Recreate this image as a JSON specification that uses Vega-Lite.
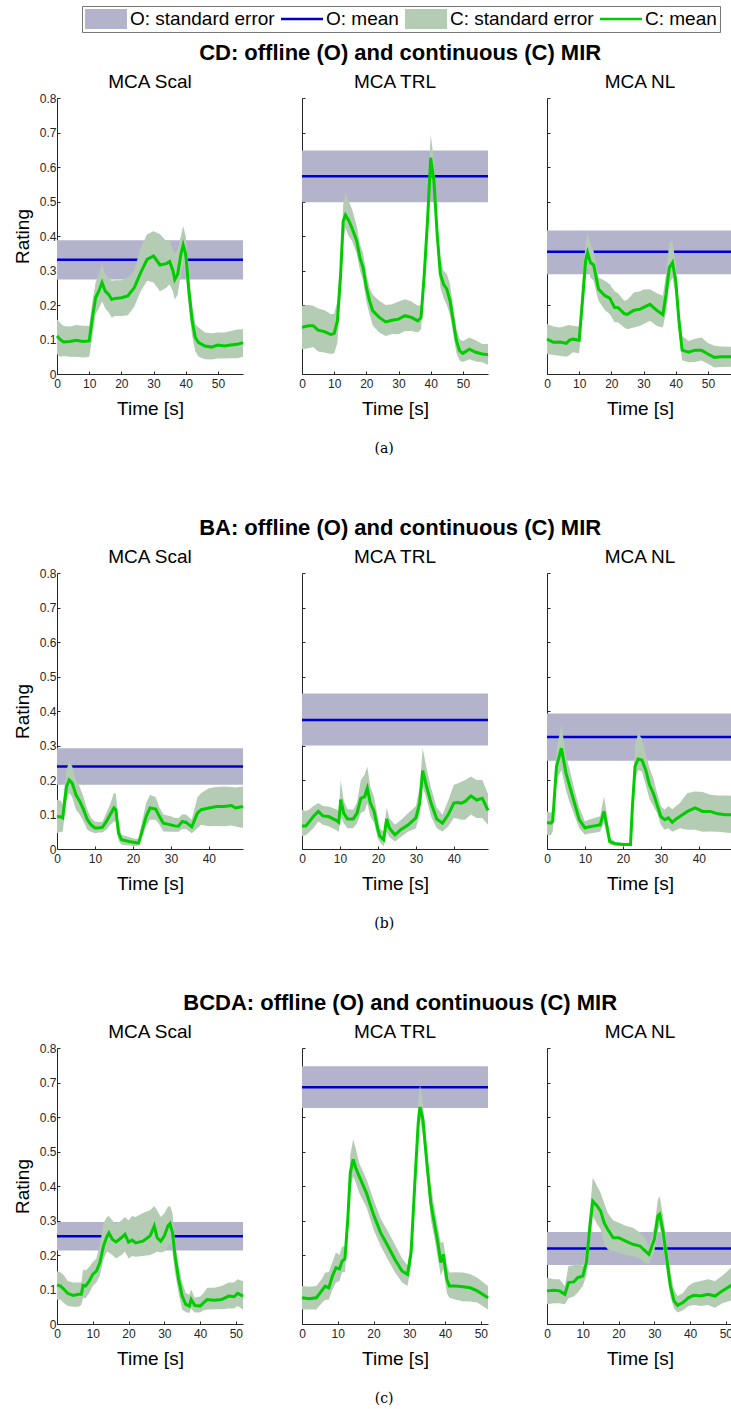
{
"$schema": "https://vega.github.io/schema/vega-lite/v6.json",
"autosize": {"type": "pad"},
"padding": {"left": 13, "top": 5, "right": 0, "bottom": 0},
"background": "white",
"config": {
  "view": {"stroke": null},
  "font": "Liberation Sans",
  "title": {"font": "Liberation Sans", "fontSize": 19, "fontWeight": "normal", "color": "#000"},
  "axis": {"grid": false, "labelFont": "Liberation Sans", "labelFontSize": 12, "labelColor": "#262626", "labelOverlap": false, "labelFlush": false, "domainColor": "#262626", "tickColor": "#262626", "tickSize": -3, "titleFont": "Liberation Sans", "titleFontSize": 19, "titleFontWeight": "normal", "titleColor": "#000"},
  "axisX": {"labelPadding": 7, "titlePadding": 10},
  "axisY": {"labelPadding": 4, "titlePadding": 7},
  "area": {"opacity": 1}
},
"datasets": {
"o": [
{"k":"a1","t":0,"m":0.331,"lo":0.274,"hi":0.388},{"k":"a1","t":57.8,"m":0.331,"lo":0.274,"hi":0.388},
{"k":"a2","t":0,"m":0.573,"lo":0.498,"hi":0.648},{"k":"a2","t":57.8,"m":0.573,"lo":0.498,"hi":0.648},
{"k":"a3","t":0,"m":0.354,"lo":0.289,"hi":0.416},{"k":"a3","t":57.8,"m":0.354,"lo":0.289,"hi":0.416},
{"k":"b1","t":0,"m":0.239,"lo":0.186,"hi":0.292},{"k":"b1","t":49,"m":0.239,"lo":0.186,"hi":0.292},
{"k":"b2","t":0,"m":0.374,"lo":0.3,"hi":0.451},{"k":"b2","t":49,"m":0.374,"lo":0.3,"hi":0.451},
{"k":"b3","t":0,"m":0.325,"lo":0.256,"hi":0.393},{"k":"b3","t":49,"m":0.325,"lo":0.256,"hi":0.393},
{"k":"c1","t":0,"m":0.254,"lo":0.213,"hi":0.296},{"k":"c1","t":52,"m":0.254,"lo":0.213,"hi":0.296},
{"k":"c2","t":0,"m":0.686,"lo":0.626,"hi":0.747},{"k":"c2","t":52,"m":0.686,"lo":0.626,"hi":0.747},
{"k":"c3","t":0,"m":0.219,"lo":0.171,"hi":0.267},{"k":"c3","t":52,"m":0.219,"lo":0.171,"hi":0.267}
],
"c": [
{"k":"a1","t":0,"m":0.11,"lo":0.057,"hi":0.158},
{"k":"a1","t":1,"m":0.1,"lo":0.05,"hi":0.148},
{"k":"a1","t":2,"m":0.093,"lo":0.052,"hi":0.139},
{"k":"a1","t":4,"m":0.094,"lo":0.05,"hi":0.138},
{"k":"a1","t":6,"m":0.098,"lo":0.05,"hi":0.142},
{"k":"a1","t":8,"m":0.094,"lo":0.048,"hi":0.14},
{"k":"a1","t":10,"m":0.096,"lo":0.049,"hi":0.139},
{"k":"a1","t":11,"m":0.163,"lo":0.11,"hi":0.21},
{"k":"a1","t":12,"m":0.221,"lo":0.173,"hi":0.265},
{"k":"a1","t":13,"m":0.24,"lo":0.19,"hi":0.29},
{"k":"a1","t":14,"m":0.265,"lo":0.21,"hi":0.32},
{"k":"a1","t":15,"m":0.24,"lo":0.19,"hi":0.29},
{"k":"a1","t":16,"m":0.231,"lo":0.18,"hi":0.28},
{"k":"a1","t":17,"m":0.216,"lo":0.163,"hi":0.27},
{"k":"a1","t":18,"m":0.219,"lo":0.168,"hi":0.272},
{"k":"a1","t":20,"m":0.221,"lo":0.168,"hi":0.272},
{"k":"a1","t":22,"m":0.226,"lo":0.17,"hi":0.28},
{"k":"a1","t":24,"m":0.25,"lo":0.195,"hi":0.3},
{"k":"a1","t":26,"m":0.294,"lo":0.24,"hi":0.366},
{"k":"a1","t":28,"m":0.332,"lo":0.27,"hi":0.405},
{"k":"a1","t":30,"m":0.342,"lo":0.265,"hi":0.414},
{"k":"a1","t":32,"m":0.316,"lo":0.24,"hi":0.405},
{"k":"a1","t":34,"m":0.32,"lo":0.25,"hi":0.385},
{"k":"a1","t":35,"m":0.326,"lo":0.26,"hi":0.39},
{"k":"a1","t":36,"m":0.3,"lo":0.24,"hi":0.36},
{"k":"a1","t":36.6,"m":0.274,"lo":0.216,"hi":0.35},
{"k":"a1","t":37.5,"m":0.289,"lo":0.23,"hi":0.36},
{"k":"a1","t":38.5,"m":0.347,"lo":0.29,"hi":0.4},
{"k":"a1","t":39.2,"m":0.374,"lo":0.318,"hi":0.429},
{"k":"a1","t":40,"m":0.347,"lo":0.29,"hi":0.4},
{"k":"a1","t":41,"m":0.24,"lo":0.19,"hi":0.28},
{"k":"a1","t":42,"m":0.154,"lo":0.11,"hi":0.2},
{"k":"a1","t":43,"m":0.105,"lo":0.065,"hi":0.145},
{"k":"a1","t":44,"m":0.091,"lo":0.05,"hi":0.135},
{"k":"a1","t":46,"m":0.081,"lo":0.043,"hi":0.12},
{"k":"a1","t":48,"m":0.078,"lo":0.042,"hi":0.118},
{"k":"a1","t":50,"m":0.084,"lo":0.045,"hi":0.12},
{"k":"a1","t":52,"m":0.081,"lo":0.045,"hi":0.12},
{"k":"a1","t":54,"m":0.084,"lo":0.046,"hi":0.125},
{"k":"a1","t":56,"m":0.086,"lo":0.046,"hi":0.129},
{"k":"a1","t":57.8,"m":0.091,"lo":0.05,"hi":0.13},
{"k":"a2","t":0,"m":0.135,"lo":0.072,"hi":0.198},
{"k":"a2","t":2,"m":0.14,"lo":0.075,"hi":0.2},
{"k":"a2","t":3.5,"m":0.14,"lo":0.078,"hi":0.198},
{"k":"a2","t":5,"m":0.127,"lo":0.065,"hi":0.19},
{"k":"a2","t":7,"m":0.123,"lo":0.062,"hi":0.185},
{"k":"a2","t":9,"m":0.114,"lo":0.058,"hi":0.173},
{"k":"a2","t":10,"m":0.118,"lo":0.06,"hi":0.175},
{"k":"a2","t":11,"m":0.154,"lo":0.09,"hi":0.21},
{"k":"a2","t":12,"m":0.289,"lo":0.23,"hi":0.33},
{"k":"a2","t":12.8,"m":0.443,"lo":0.38,"hi":0.49},
{"k":"a2","t":13.5,"m":0.461,"lo":0.424,"hi":0.525},
{"k":"a2","t":14.5,"m":0.445,"lo":0.4,"hi":0.5},
{"k":"a2","t":15.5,"m":0.424,"lo":0.386,"hi":0.48},
{"k":"a2","t":17,"m":0.386,"lo":0.35,"hi":0.43},
{"k":"a2","t":18,"m":0.337,"lo":0.3,"hi":0.376},
{"k":"a2","t":19,"m":0.308,"lo":0.27,"hi":0.35},
{"k":"a2","t":20,"m":0.251,"lo":0.21,"hi":0.29},
{"k":"a2","t":21,"m":0.212,"lo":0.173,"hi":0.251},
{"k":"a2","t":22,"m":0.183,"lo":0.14,"hi":0.23},
{"k":"a2","t":24,"m":0.164,"lo":0.12,"hi":0.212},
{"k":"a2","t":26,"m":0.151,"lo":0.11,"hi":0.2},
{"k":"a2","t":28,"m":0.156,"lo":0.116,"hi":0.202},
{"k":"a2","t":30,"m":0.159,"lo":0.115,"hi":0.21},
{"k":"a2","t":32,"m":0.169,"lo":0.125,"hi":0.217},
{"k":"a2","t":34,"m":0.164,"lo":0.125,"hi":0.21},
{"k":"a2","t":36,"m":0.154,"lo":0.12,"hi":0.198},
{"k":"a2","t":37,"m":0.164,"lo":0.13,"hi":0.2},
{"k":"a2","t":38,"m":0.289,"lo":0.25,"hi":0.33},
{"k":"a2","t":39,"m":0.443,"lo":0.4,"hi":0.49},
{"k":"a2","t":40,"m":0.627,"lo":0.588,"hi":0.694},
{"k":"a2","t":41,"m":0.559,"lo":0.52,"hi":0.62},
{"k":"a2","t":42,"m":0.405,"lo":0.37,"hi":0.444},
{"k":"a2","t":43,"m":0.289,"lo":0.25,"hi":0.33},
{"k":"a2","t":44,"m":0.26,"lo":0.22,"hi":0.299},
{"k":"a2","t":45,"m":0.246,"lo":0.2,"hi":0.29},
{"k":"a2","t":46,"m":0.212,"lo":0.17,"hi":0.26},
{"k":"a2","t":47,"m":0.154,"lo":0.116,"hi":0.193},
{"k":"a2","t":48,"m":0.096,"lo":0.06,"hi":0.13},
{"k":"a2","t":49,"m":0.067,"lo":0.039,"hi":0.101},
{"k":"a2","t":50,"m":0.06,"lo":0.035,"hi":0.095},
{"k":"a2","t":52,"m":0.072,"lo":0.043,"hi":0.106},
{"k":"a2","t":54,"m":0.063,"lo":0.036,"hi":0.098},
{"k":"a2","t":56,"m":0.058,"lo":0.034,"hi":0.087},
{"k":"a2","t":57.8,"m":0.056,"lo":0.027,"hi":0.087},
{"k":"a3","t":0,"m":0.101,"lo":0.058,"hi":0.145},
{"k":"a3","t":2,"m":0.092,"lo":0.055,"hi":0.138},
{"k":"a3","t":4,"m":0.093,"lo":0.053,"hi":0.135},
{"k":"a3","t":6,"m":0.089,"lo":0.05,"hi":0.14},
{"k":"a3","t":7,"m":0.098,"lo":0.055,"hi":0.142},
{"k":"a3","t":8,"m":0.101,"lo":0.063,"hi":0.14},
{"k":"a3","t":10,"m":0.098,"lo":0.06,"hi":0.138},
{"k":"a3","t":11,"m":0.212,"lo":0.164,"hi":0.26},
{"k":"a3","t":12,"m":0.328,"lo":0.28,"hi":0.38},
{"k":"a3","t":12.6,"m":0.352,"lo":0.313,"hi":0.41},
{"k":"a3","t":13.5,"m":0.323,"lo":0.28,"hi":0.38},
{"k":"a3","t":14.5,"m":0.316,"lo":0.27,"hi":0.356},
{"k":"a3","t":16,"m":0.246,"lo":0.212,"hi":0.28},
{"k":"a3","t":18,"m":0.227,"lo":0.185,"hi":0.27},
{"k":"a3","t":19.5,"m":0.22,"lo":0.174,"hi":0.26},
{"k":"a3","t":21,"m":0.193,"lo":0.15,"hi":0.24},
{"k":"a3","t":22,"m":0.193,"lo":0.15,"hi":0.235},
{"k":"a3","t":24,"m":0.175,"lo":0.135,"hi":0.212},
{"k":"a3","t":25,"m":0.173,"lo":0.13,"hi":0.215},
{"k":"a3","t":27,"m":0.185,"lo":0.135,"hi":0.236},
{"k":"a3","t":29,"m":0.188,"lo":0.14,"hi":0.24},
{"k":"a3","t":30,"m":0.193,"lo":0.145,"hi":0.245},
{"k":"a3","t":32,"m":0.202,"lo":0.154,"hi":0.246},
{"k":"a3","t":34,"m":0.185,"lo":0.14,"hi":0.235},
{"k":"a3","t":36,"m":0.172,"lo":0.135,"hi":0.227},
{"k":"a3","t":37,"m":0.231,"lo":0.18,"hi":0.29},
{"k":"a3","t":38,"m":0.308,"lo":0.26,"hi":0.38},
{"k":"a3","t":39,"m":0.323,"lo":0.28,"hi":0.386},
{"k":"a3","t":40,"m":0.27,"lo":0.23,"hi":0.32},
{"k":"a3","t":41,"m":0.154,"lo":0.116,"hi":0.193},
{"k":"a3","t":42,"m":0.069,"lo":0.04,"hi":0.11},
{"k":"a3","t":44,"m":0.063,"lo":0.034,"hi":0.096},
{"k":"a3","t":46,"m":0.069,"lo":0.035,"hi":0.102},
{"k":"a3","t":48,"m":0.069,"lo":0.039,"hi":0.106},
{"k":"a3","t":50,"m":0.058,"lo":0.03,"hi":0.09},
{"k":"a3","t":52,"m":0.048,"lo":0.019,"hi":0.082},
{"k":"a3","t":54,"m":0.05,"lo":0.02,"hi":0.08},
{"k":"a3","t":57.8,"m":0.05,"lo":0.021,"hi":0.079},
{"k":"b1","t":0,"m":0.094,"lo":0.046,"hi":0.143},
{"k":"b1","t":1,"m":0.093,"lo":0.05,"hi":0.14},
{"k":"b1","t":1.5,"m":0.09,"lo":0.05,"hi":0.13},
{"k":"b1","t":2.5,"m":0.181,"lo":0.14,"hi":0.23},
{"k":"b1","t":3.2,"m":0.2,"lo":0.162,"hi":0.253},
{"k":"b1","t":4,"m":0.191,"lo":0.15,"hi":0.24},
{"k":"b1","t":5,"m":0.157,"lo":0.114,"hi":0.2},
{"k":"b1","t":6,"m":0.138,"lo":0.1,"hi":0.18},
{"k":"b1","t":7,"m":0.114,"lo":0.08,"hi":0.15},
{"k":"b1","t":8,"m":0.085,"lo":0.056,"hi":0.114},
{"k":"b1","t":9,"m":0.07,"lo":0.05,"hi":0.09},
{"k":"b1","t":10,"m":0.061,"lo":0.046,"hi":0.08},
{"k":"b1","t":11,"m":0.061,"lo":0.048,"hi":0.078},
{"k":"b1","t":12,"m":0.063,"lo":0.048,"hi":0.08},
{"k":"b1","t":13,"m":0.08,"lo":0.056,"hi":0.104},
{"k":"b1","t":14,"m":0.099,"lo":0.07,"hi":0.13},
{"k":"b1","t":15,"m":0.119,"lo":0.08,"hi":0.162},
{"k":"b1","t":15.5,"m":0.114,"lo":0.08,"hi":0.16},
{"k":"b1","t":16.2,"m":0.046,"lo":0.025,"hi":0.08},
{"k":"b1","t":17,"m":0.027,"lo":0.012,"hi":0.041},
{"k":"b1","t":19,"m":0.022,"lo":0.01,"hi":0.035},
{"k":"b1","t":20.5,"m":0.019,"lo":0.008,"hi":0.03},
{"k":"b1","t":21.5,"m":0.017,"lo":0.01,"hi":0.03},
{"k":"b1","t":22.5,"m":0.056,"lo":0.035,"hi":0.085},
{"k":"b1","t":23.5,"m":0.094,"lo":0.066,"hi":0.133},
{"k":"b1","t":24.5,"m":0.119,"lo":0.085,"hi":0.157},
{"k":"b1","t":26,"m":0.116,"lo":0.085,"hi":0.15},
{"k":"b1","t":27,"m":0.094,"lo":0.07,"hi":0.12},
{"k":"b1","t":28,"m":0.075,"lo":0.051,"hi":0.1},
{"k":"b1","t":30,"m":0.07,"lo":0.05,"hi":0.095},
{"k":"b1","t":31,"m":0.067,"lo":0.05,"hi":0.09},
{"k":"b1","t":32,"m":0.066,"lo":0.05,"hi":0.09},
{"k":"b1","t":33,"m":0.08,"lo":0.058,"hi":0.1},
{"k":"b1","t":34,"m":0.077,"lo":0.058,"hi":0.1},
{"k":"b1","t":35.5,"m":0.064,"lo":0.046,"hi":0.085},
{"k":"b1","t":37,"m":0.104,"lo":0.06,"hi":0.15},
{"k":"b1","t":38,"m":0.114,"lo":0.07,"hi":0.162},
{"k":"b1","t":40,"m":0.119,"lo":0.066,"hi":0.176},
{"k":"b1","t":42,"m":0.123,"lo":0.067,"hi":0.18},
{"k":"b1","t":44,"m":0.123,"lo":0.066,"hi":0.181},
{"k":"b1","t":46,"m":0.126,"lo":0.068,"hi":0.18},
{"k":"b1","t":47,"m":0.119,"lo":0.065,"hi":0.178},
{"k":"b1","t":49,"m":0.123,"lo":0.061,"hi":0.181},
{"k":"b2","t":0,"m":0.067,"lo":0.037,"hi":0.114},
{"k":"b2","t":1,"m":0.067,"lo":0.04,"hi":0.11},
{"k":"b2","t":2,"m":0.08,"lo":0.05,"hi":0.115},
{"k":"b2","t":3,"m":0.094,"lo":0.06,"hi":0.125},
{"k":"b2","t":4.3,"m":0.109,"lo":0.08,"hi":0.133},
{"k":"b2","t":5.5,"m":0.096,"lo":0.07,"hi":0.125},
{"k":"b2","t":7,"m":0.094,"lo":0.066,"hi":0.123},
{"k":"b2","t":9,"m":0.083,"lo":0.055,"hi":0.115},
{"k":"b2","t":9.7,"m":0.077,"lo":0.05,"hi":0.11},
{"k":"b2","t":10.2,"m":0.143,"lo":0.095,"hi":0.2},
{"k":"b2","t":11,"m":0.104,"lo":0.075,"hi":0.14},
{"k":"b2","t":12,"m":0.087,"lo":0.06,"hi":0.115},
{"k":"b2","t":13.5,"m":0.087,"lo":0.06,"hi":0.114},
{"k":"b2","t":14.5,"m":0.104,"lo":0.075,"hi":0.135},
{"k":"b2","t":15.5,"m":0.147,"lo":0.104,"hi":0.2},
{"k":"b2","t":16.5,"m":0.152,"lo":0.11,"hi":0.215},
{"k":"b2","t":17.2,"m":0.176,"lo":0.133,"hi":0.239},
{"k":"b2","t":18,"m":0.133,"lo":0.095,"hi":0.18},
{"k":"b2","t":19,"m":0.109,"lo":0.075,"hi":0.15},
{"k":"b2","t":20,"m":0.056,"lo":0.03,"hi":0.09},
{"k":"b2","t":20.5,"m":0.037,"lo":0.02,"hi":0.06},
{"k":"b2","t":21.5,"m":0.027,"lo":0.008,"hi":0.05},
{"k":"b2","t":22.3,"m":0.087,"lo":0.05,"hi":0.12},
{"k":"b2","t":23,"m":0.061,"lo":0.035,"hi":0.09},
{"k":"b2","t":24.5,"m":0.041,"lo":0.022,"hi":0.07},
{"k":"b2","t":26,"m":0.056,"lo":0.035,"hi":0.083},
{"k":"b2","t":28,"m":0.07,"lo":0.051,"hi":0.104},
{"k":"b2","t":30,"m":0.09,"lo":0.06,"hi":0.125},
{"k":"b2","t":31,"m":0.133,"lo":0.1,"hi":0.18},
{"k":"b2","t":31.8,"m":0.227,"lo":0.18,"hi":0.292},
{"k":"b2","t":32.7,"m":0.186,"lo":0.15,"hi":0.24},
{"k":"b2","t":34,"m":0.133,"lo":0.094,"hi":0.177},
{"k":"b2","t":35.5,"m":0.087,"lo":0.06,"hi":0.12},
{"k":"b2","t":37,"m":0.075,"lo":0.051,"hi":0.099},
{"k":"b2","t":38.5,"m":0.099,"lo":0.065,"hi":0.14},
{"k":"b2","t":40,"m":0.133,"lo":0.09,"hi":0.186},
{"k":"b2","t":41,"m":0.135,"lo":0.088,"hi":0.19},
{"k":"b2","t":42,"m":0.133,"lo":0.085,"hi":0.195},
{"k":"b2","t":43,"m":0.138,"lo":0.085,"hi":0.2},
{"k":"b2","t":44.5,"m":0.154,"lo":0.1,"hi":0.21},
{"k":"b2","t":46,"m":0.142,"lo":0.09,"hi":0.2},
{"k":"b2","t":47.5,"m":0.147,"lo":0.09,"hi":0.2},
{"k":"b2","t":49,"m":0.112,"lo":0.07,"hi":0.16},
{"k":"b3","t":0,"m":0.077,"lo":0.041,"hi":0.109},
{"k":"b3","t":1,"m":0.075,"lo":0.04,"hi":0.105},
{"k":"b3","t":1.5,"m":0.08,"lo":0.05,"hi":0.11},
{"k":"b3","t":2.5,"m":0.239,"lo":0.2,"hi":0.29},
{"k":"b3","t":3.8,"m":0.292,"lo":0.229,"hi":0.36},
{"k":"b3","t":5,"m":0.22,"lo":0.17,"hi":0.27},
{"k":"b3","t":6,"m":0.181,"lo":0.133,"hi":0.229},
{"k":"b3","t":7.5,"m":0.123,"lo":0.09,"hi":0.16},
{"k":"b3","t":8.5,"m":0.085,"lo":0.06,"hi":0.12},
{"k":"b3","t":10,"m":0.061,"lo":0.041,"hi":0.08},
{"k":"b3","t":11,"m":0.064,"lo":0.045,"hi":0.085},
{"k":"b3","t":12.5,"m":0.067,"lo":0.047,"hi":0.09},
{"k":"b3","t":14,"m":0.07,"lo":0.05,"hi":0.095},
{"k":"b3","t":15,"m":0.109,"lo":0.075,"hi":0.152},
{"k":"b3","t":15.8,"m":0.066,"lo":0.04,"hi":0.1},
{"k":"b3","t":16.5,"m":0.022,"lo":0.012,"hi":0.035},
{"k":"b3","t":18,"m":0.015,"lo":0.01,"hi":0.02},
{"k":"b3","t":20,"m":0.013,"lo":0.009,"hi":0.018},
{"k":"b3","t":22,"m":0.013,"lo":0.009,"hi":0.018},
{"k":"b3","t":22.5,"m":0.123,"lo":0.09,"hi":0.16},
{"k":"b3","t":23.2,"m":0.239,"lo":0.2,"hi":0.3},
{"k":"b3","t":24,"m":0.261,"lo":0.229,"hi":0.335},
{"k":"b3","t":25,"m":0.258,"lo":0.225,"hi":0.32},
{"k":"b3","t":26,"m":0.229,"lo":0.186,"hi":0.277},
{"k":"b3","t":27,"m":0.186,"lo":0.145,"hi":0.235},
{"k":"b3","t":28,"m":0.162,"lo":0.125,"hi":0.205},
{"k":"b3","t":29,"m":0.128,"lo":0.104,"hi":0.162},
{"k":"b3","t":30,"m":0.094,"lo":0.07,"hi":0.125},
{"k":"b3","t":31,"m":0.085,"lo":0.056,"hi":0.114},
{"k":"b3","t":32,"m":0.09,"lo":0.06,"hi":0.125},
{"k":"b3","t":33,"m":0.077,"lo":0.05,"hi":0.115},
{"k":"b3","t":34,"m":0.087,"lo":0.055,"hi":0.125},
{"k":"b3","t":35,"m":0.094,"lo":0.06,"hi":0.133},
{"k":"b3","t":37,"m":0.109,"lo":0.056,"hi":0.162},
{"k":"b3","t":39,"m":0.119,"lo":0.056,"hi":0.167},
{"k":"b3","t":41,"m":0.109,"lo":0.05,"hi":0.165},
{"k":"b3","t":43,"m":0.109,"lo":0.051,"hi":0.157},
{"k":"b3","t":45,"m":0.102,"lo":0.05,"hi":0.155},
{"k":"b3","t":47,"m":0.099,"lo":0.048,"hi":0.155},
{"k":"b3","t":49,"m":0.099,"lo":0.046,"hi":0.154},
{"k":"c1","t":0,"m":0.113,"lo":0.071,"hi":0.153},
{"k":"c1","t":1,"m":0.11,"lo":0.07,"hi":0.15},
{"k":"c1","t":2,"m":0.1,"lo":0.06,"hi":0.14},
{"k":"c1","t":3,"m":0.089,"lo":0.052,"hi":0.125},
{"k":"c1","t":4.5,"m":0.083,"lo":0.05,"hi":0.12},
{"k":"c1","t":6,"m":0.086,"lo":0.05,"hi":0.12},
{"k":"c1","t":6.8,"m":0.086,"lo":0.055,"hi":0.12},
{"k":"c1","t":7.3,"m":0.112,"lo":0.076,"hi":0.158},
{"k":"c1","t":8,"m":0.11,"lo":0.075,"hi":0.155},
{"k":"c1","t":9,"m":0.124,"lo":0.09,"hi":0.165},
{"k":"c1","t":10,"m":0.144,"lo":0.11,"hi":0.18},
{"k":"c1","t":11,"m":0.153,"lo":0.12,"hi":0.19},
{"k":"c1","t":12,"m":0.178,"lo":0.14,"hi":0.23},
{"k":"c1","t":13,"m":0.226,"lo":0.188,"hi":0.293},
{"k":"c1","t":14,"m":0.255,"lo":0.21,"hi":0.31},
{"k":"c1","t":14.5,"m":0.264,"lo":0.207,"hi":0.313},
{"k":"c1","t":15.5,"m":0.245,"lo":0.2,"hi":0.3},
{"k":"c1","t":16.5,"m":0.238,"lo":0.19,"hi":0.29},
{"k":"c1","t":18,"m":0.25,"lo":0.2,"hi":0.3},
{"k":"c1","t":19,"m":0.26,"lo":0.21,"hi":0.31},
{"k":"c1","t":20,"m":0.237,"lo":0.19,"hi":0.3},
{"k":"c1","t":21,"m":0.243,"lo":0.197,"hi":0.313},
{"k":"c1","t":22,"m":0.235,"lo":0.195,"hi":0.31},
{"k":"c1","t":24,"m":0.24,"lo":0.197,"hi":0.322},
{"k":"c1","t":26,"m":0.255,"lo":0.2,"hi":0.33},
{"k":"c1","t":27.2,"m":0.284,"lo":0.206,"hi":0.342},
{"k":"c1","t":28,"m":0.25,"lo":0.21,"hi":0.33},
{"k":"c1","t":29,"m":0.24,"lo":0.207,"hi":0.31},
{"k":"c1","t":30,"m":0.255,"lo":0.21,"hi":0.32},
{"k":"c1","t":31,"m":0.284,"lo":0.225,"hi":0.34},
{"k":"c1","t":31.6,"m":0.291,"lo":0.235,"hi":0.342},
{"k":"c1","t":32.3,"m":0.264,"lo":0.21,"hi":0.32},
{"k":"c1","t":33,"m":0.197,"lo":0.148,"hi":0.236},
{"k":"c1","t":34,"m":0.129,"lo":0.09,"hi":0.17},
{"k":"c1","t":35,"m":0.081,"lo":0.042,"hi":0.12},
{"k":"c1","t":36,"m":0.057,"lo":0.035,"hi":0.09},
{"k":"c1","t":37,"m":0.052,"lo":0.032,"hi":0.085},
{"k":"c1","t":37.5,"m":0.071,"lo":0.045,"hi":0.1},
{"k":"c1","t":38.5,"m":0.054,"lo":0.033,"hi":0.076},
{"k":"c1","t":40,"m":0.052,"lo":0.033,"hi":0.08},
{"k":"c1","t":41,"m":0.062,"lo":0.04,"hi":0.09},
{"k":"c1","t":42,"m":0.071,"lo":0.042,"hi":0.105},
{"k":"c1","t":44,"m":0.069,"lo":0.043,"hi":0.105},
{"k":"c1","t":46,"m":0.071,"lo":0.043,"hi":0.11},
{"k":"c1","t":48,"m":0.081,"lo":0.045,"hi":0.12},
{"k":"c1","t":49.5,"m":0.079,"lo":0.045,"hi":0.12},
{"k":"c1","t":50.5,"m":0.089,"lo":0.052,"hi":0.13},
{"k":"c1","t":52,"m":0.081,"lo":0.042,"hi":0.124},
{"k":"c2","t":0,"m":0.076,"lo":0.042,"hi":0.11},
{"k":"c2","t":2,"m":0.073,"lo":0.042,"hi":0.108},
{"k":"c2","t":4,"m":0.076,"lo":0.042,"hi":0.11},
{"k":"c2","t":5.5,"m":0.096,"lo":0.06,"hi":0.13},
{"k":"c2","t":6.5,"m":0.11,"lo":0.07,"hi":0.149},
{"k":"c2","t":7.5,"m":0.105,"lo":0.07,"hi":0.15},
{"k":"c2","t":8.5,"m":0.139,"lo":0.1,"hi":0.18},
{"k":"c2","t":9.5,"m":0.163,"lo":0.12,"hi":0.207},
{"k":"c2","t":10.5,"m":0.16,"lo":0.125,"hi":0.2},
{"k":"c2","t":11.2,"m":0.182,"lo":0.15,"hi":0.225},
{"k":"c2","t":12,"m":0.189,"lo":0.15,"hi":0.225},
{"k":"c2","t":12.8,"m":0.303,"lo":0.26,"hi":0.34},
{"k":"c2","t":13.5,"m":0.438,"lo":0.39,"hi":0.49},
{"k":"c2","t":14.3,"m":0.477,"lo":0.428,"hi":0.535},
{"k":"c2","t":15,"m":0.453,"lo":0.41,"hi":0.51},
{"k":"c2","t":16,"m":0.428,"lo":0.38,"hi":0.466},
{"k":"c2","t":18,"m":0.38,"lo":0.34,"hi":0.42},
{"k":"c2","t":20,"m":0.317,"lo":0.274,"hi":0.36},
{"k":"c2","t":22,"m":0.264,"lo":0.226,"hi":0.305},
{"k":"c2","t":24,"m":0.226,"lo":0.187,"hi":0.269},
{"k":"c2","t":26,"m":0.187,"lo":0.15,"hi":0.23},
{"k":"c2","t":28,"m":0.153,"lo":0.12,"hi":0.19},
{"k":"c2","t":29.5,"m":0.144,"lo":0.11,"hi":0.17},
{"k":"c2","t":30.5,"m":0.207,"lo":0.17,"hi":0.24},
{"k":"c2","t":31.5,"m":0.4,"lo":0.36,"hi":0.44},
{"k":"c2","t":32.5,"m":0.583,"lo":0.55,"hi":0.64},
{"k":"c2","t":33,"m":0.629,"lo":0.593,"hi":0.694},
{"k":"c2","t":33.8,"m":0.593,"lo":0.55,"hi":0.64},
{"k":"c2","t":35,"m":0.457,"lo":0.42,"hi":0.5},
{"k":"c2","t":36,"m":0.351,"lo":0.303,"hi":0.4},
{"k":"c2","t":37,"m":0.293,"lo":0.25,"hi":0.34},
{"k":"c2","t":38,"m":0.235,"lo":0.19,"hi":0.28},
{"k":"c2","t":38.8,"m":0.178,"lo":0.14,"hi":0.235},
{"k":"c2","t":39.5,"m":0.202,"lo":0.16,"hi":0.24},
{"k":"c2","t":40.5,"m":0.129,"lo":0.09,"hi":0.17},
{"k":"c2","t":41.2,"m":0.11,"lo":0.076,"hi":0.149},
{"k":"c2","t":43,"m":0.11,"lo":0.07,"hi":0.15},
{"k":"c2","t":45,"m":0.108,"lo":0.066,"hi":0.149},
{"k":"c2","t":47,"m":0.105,"lo":0.065,"hi":0.145},
{"k":"c2","t":49,"m":0.096,"lo":0.062,"hi":0.134},
{"k":"c2","t":52,"m":0.076,"lo":0.042,"hi":0.11},
{"k":"c3","t":0,"m":0.096,"lo":0.057,"hi":0.134},
{"k":"c3","t":2,"m":0.098,"lo":0.06,"hi":0.13},
{"k":"c3","t":3.5,"m":0.096,"lo":0.06,"hi":0.13},
{"k":"c3","t":5,"m":0.086,"lo":0.057,"hi":0.11},
{"k":"c3","t":6,"m":0.12,"lo":0.075,"hi":0.168},
{"k":"c3","t":7.5,"m":0.122,"lo":0.08,"hi":0.17},
{"k":"c3","t":8.5,"m":0.134,"lo":0.09,"hi":0.175},
{"k":"c3","t":10,"m":0.139,"lo":0.11,"hi":0.168},
{"k":"c3","t":11,"m":0.178,"lo":0.14,"hi":0.22},
{"k":"c3","t":12,"m":0.284,"lo":0.24,"hi":0.33},
{"k":"c3","t":12.8,"m":0.356,"lo":0.313,"hi":0.424},
{"k":"c3","t":14,"m":0.342,"lo":0.29,"hi":0.4},
{"k":"c3","t":15,"m":0.327,"lo":0.274,"hi":0.38},
{"k":"c3","t":16,"m":0.293,"lo":0.23,"hi":0.35},
{"k":"c3","t":17,"m":0.274,"lo":0.216,"hi":0.322},
{"k":"c3","t":18.5,"m":0.25,"lo":0.21,"hi":0.3},
{"k":"c3","t":20,"m":0.25,"lo":0.207,"hi":0.294},
{"k":"c3","t":22,"m":0.24,"lo":0.2,"hi":0.285},
{"k":"c3","t":24,"m":0.231,"lo":0.197,"hi":0.279},
{"k":"c3","t":26,"m":0.226,"lo":0.19,"hi":0.265},
{"k":"c3","t":27,"m":0.216,"lo":0.18,"hi":0.255},
{"k":"c3","t":28.5,"m":0.202,"lo":0.173,"hi":0.226},
{"k":"c3","t":30,"m":0.245,"lo":0.21,"hi":0.28},
{"k":"c3","t":31,"m":0.313,"lo":0.27,"hi":0.36},
{"k":"c3","t":31.5,"m":0.318,"lo":0.284,"hi":0.371},
{"k":"c3","t":32.5,"m":0.264,"lo":0.22,"hi":0.31},
{"k":"c3","t":33.5,"m":0.187,"lo":0.15,"hi":0.23},
{"k":"c3","t":34.5,"m":0.11,"lo":0.08,"hi":0.15},
{"k":"c3","t":35.5,"m":0.067,"lo":0.045,"hi":0.1},
{"k":"c3","t":36.5,"m":0.054,"lo":0.033,"hi":0.081},
{"k":"c3","t":38,"m":0.062,"lo":0.04,"hi":0.09},
{"k":"c3","t":39.5,"m":0.076,"lo":0.052,"hi":0.11},
{"k":"c3","t":41,"m":0.083,"lo":0.055,"hi":0.12},
{"k":"c3","t":43,"m":0.081,"lo":0.052,"hi":0.125},
{"k":"c3","t":45,"m":0.086,"lo":0.055,"hi":0.13},
{"k":"c3","t":47,"m":0.081,"lo":0.047,"hi":0.125},
{"k":"c3","t":49,"m":0.096,"lo":0.06,"hi":0.14},
{"k":"c3","t":52,"m":0.115,"lo":0.07,"hi":0.168}
]
},
"vconcat": [
{
 "title": {"text": "(a)", "orient": "bottom", "anchor": "middle", "dx": 8, "font": "DejaVu Serif", "fontSize": 14, "offset": 24},
 "vconcat": [{
  "title": {"text": "CD: offline (O) and continuous (C) MIR", "anchor": "middle", "dx": 24, "fontWeight": "bold", "fontSize": 22, "offset": 8},
  "bounds": "flush", "spacing": 59,
  "hconcat": [
   {"width": 186, "height": 276, "title": {"text": "MCA Scal", "offset": 0.01},
    "encoding": {"x": {"field": "t", "type": "quantitative", "scale": {"domain": [0, 57.8], "nice": false, "zero": false}, "axis": {"values": [0,10,20,30,40,50], "title": "Time [s]"}}},
    "layer": [
     {"data": {"name": "o"}, "transform": [{"filter": "datum.k=='a1'"}], "mark": {"type": "area", "opacity": 1},
      "encoding": {"y": {"field": "lo", "type": "quantitative", "scale": {"domain": [0, 0.8], "nice": false}, "axis": {"values": [0,0.1,0.2,0.3,0.4,0.5,0.6,0.7,0.8], "format": ".1~f", "title": "Rating"}}, "y2": {"field": "hi"},
       "color": {"datum": "O: standard error", "type": "nominal", "scale": {"domain": ["O: standard error","O: mean","C: standard error","C: mean"], "range": ["#b3b3cc","#0000cc","#b3ccb3","#00cc00"]},
        "legend": {"orient": "none", "legendX": 25, "legendY": -92, "direction": "horizontal", "columns": 4, "title": null, "symbolSize": 400, "symbolStrokeWidth": 0, "symbolOpacity": 1, "labelOffset": 25, "columnPadding": 6, "padding": 3, "strokeColor": "#777", "labelFont": "Liberation Sans", "labelFontSize": 19, "labelColor": "#000", "labelLimit": 300}}}},
     {"data": {"name": "o"}, "transform": [{"filter": "datum.k=='a1'"}], "mark": {"type": "line", "strokeWidth": 2.5},
      "encoding": {"y": {"field": "m", "type": "quantitative", "axis": {"values": [0,0.1,0.2,0.3,0.4,0.5,0.6,0.7,0.8], "format": ".1~f", "title": "Rating"}}, "color": {"datum": "O: mean", "type": "nominal", "scale": {"domain": ["O: standard error","O: mean","C: standard error","C: mean"], "range": ["#b3b3cc","#0000cc","#b3ccb3","#00cc00"]}}}},
     {"data": {"name": "c"}, "transform": [{"filter": "datum.k=='a1'"}], "mark": {"type": "area", "opacity": 1},
      "encoding": {"y": {"field": "lo", "type": "quantitative", "axis": {"values": [0,0.1,0.2,0.3,0.4,0.5,0.6,0.7,0.8], "format": ".1~f", "title": "Rating"}}, "y2": {"field": "hi"}, "color": {"datum": "C: standard error", "type": "nominal", "scale": {"domain": ["O: standard error","O: mean","C: standard error","C: mean"], "range": ["#b3b3cc","#0000cc","#b3ccb3","#00cc00"]}}}},
     {"data": {"name": "c"}, "transform": [{"filter": "datum.k=='a1'"}], "mark": {"type": "line", "strokeWidth": 3},
      "encoding": {"y": {"field": "m", "type": "quantitative", "axis": {"values": [0,0.1,0.2,0.3,0.4,0.5,0.6,0.7,0.8], "format": ".1~f", "title": "Rating"}}, "color": {"datum": "C: mean", "type": "nominal", "scale": {"domain": ["O: standard error","O: mean","C: standard error","C: mean"], "range": ["#b3b3cc","#0000cc","#b3ccb3","#00cc00"]}}}},
     {"data": {"name": "o"}, "transform": [{"filter": "datum.k=='a1' && datum.t==0"}], "mark": {"type": "point", "size": 0, "strokeWidth": 0},
      "encoding": {"y": {"field": "m", "type": "quantitative", "axis": {"values": [0,0.1,0.2,0.3,0.4,0.5,0.6,0.7,0.8], "format": ".1~f", "title": "Rating"}}, "shape": {"datum": "O: mean", "type": "nominal", "scale": {"domain": ["O: standard error","O: mean","C: standard error","C: mean"], "range": ["M-1,-1H3.2V1H-1Z","M-1,-0.13H3.2V0.13H-1Z","M-1,-1H3.2V1H-1Z","M-1,-0.13H3.2V0.13H-1Z"]}}}}
    ]},
   {"width": 186, "height": 276, "title": {"text": "MCA TRL", "offset": 0.01},
    "encoding": {"x": {"field": "t", "type": "quantitative", "scale": {"domain": [0, 57.8], "nice": false, "zero": false}, "axis": {"values": [0,10,20,30,40,50], "title": "Time [s]"}}},
    "layer": [
     {"data": {"name": "o"}, "transform": [{"filter": "datum.k=='a2'"}], "mark": {"type": "area", "opacity": 1},
      "encoding": {"y": {"field": "lo", "type": "quantitative", "scale": {"domain": [0, 0.8], "nice": false}, "axis": {"values": [0,0.1,0.2,0.3,0.4,0.5,0.6,0.7,0.8], "format": ".1~f", "labelOpacity": 0, "title": null}}, "y2": {"field": "hi"}, "color": {"datum": "O: standard error", "type": "nominal", "scale": {"domain": ["O: standard error","O: mean","C: standard error","C: mean"], "range": ["#b3b3cc","#0000cc","#b3ccb3","#00cc00"]}}}},
     {"data": {"name": "o"}, "transform": [{"filter": "datum.k=='a2'"}], "mark": {"type": "line", "strokeWidth": 2.5},
      "encoding": {"y": {"field": "m", "type": "quantitative", "axis": {"values": [0,0.1,0.2,0.3,0.4,0.5,0.6,0.7,0.8], "format": ".1~f", "labelOpacity": 0, "title": null}}, "color": {"datum": "O: mean", "type": "nominal", "scale": {"domain": ["O: standard error","O: mean","C: standard error","C: mean"], "range": ["#b3b3cc","#0000cc","#b3ccb3","#00cc00"]}}}},
     {"data": {"name": "c"}, "transform": [{"filter": "datum.k=='a2'"}], "mark": {"type": "area", "opacity": 1},
      "encoding": {"y": {"field": "lo", "type": "quantitative", "axis": {"values": [0,0.1,0.2,0.3,0.4,0.5,0.6,0.7,0.8], "format": ".1~f", "labelOpacity": 0, "title": null}}, "y2": {"field": "hi"}, "color": {"datum": "C: standard error", "type": "nominal", "scale": {"domain": ["O: standard error","O: mean","C: standard error","C: mean"], "range": ["#b3b3cc","#0000cc","#b3ccb3","#00cc00"]}}}},
     {"data": {"name": "c"}, "transform": [{"filter": "datum.k=='a2'"}], "mark": {"type": "line", "strokeWidth": 3},
      "encoding": {"y": {"field": "m", "type": "quantitative", "axis": {"values": [0,0.1,0.2,0.3,0.4,0.5,0.6,0.7,0.8], "format": ".1~f", "labelOpacity": 0, "title": null}}, "color": {"datum": "C: mean", "type": "nominal", "scale": {"domain": ["O: standard error","O: mean","C: standard error","C: mean"], "range": ["#b3b3cc","#0000cc","#b3ccb3","#00cc00"]}}}}
    ]},
   {"width": 186, "height": 276, "title": {"text": "MCA NL", "offset": 0.01},
    "encoding": {"x": {"field": "t", "type": "quantitative", "scale": {"domain": [0, 57.8], "nice": false, "zero": false}, "axis": {"values": [0,10,20,30,40,50], "title": "Time [s]"}}},
    "layer": [
     {"data": {"name": "o"}, "transform": [{"filter": "datum.k=='a3'"}], "mark": {"type": "area", "opacity": 1},
      "encoding": {"y": {"field": "lo", "type": "quantitative", "scale": {"domain": [0, 0.8], "nice": false}, "axis": {"values": [0,0.1,0.2,0.3,0.4,0.5,0.6,0.7,0.8], "format": ".1~f", "labelOpacity": 0, "title": null}}, "y2": {"field": "hi"}, "color": {"datum": "O: standard error", "type": "nominal", "scale": {"domain": ["O: standard error","O: mean","C: standard error","C: mean"], "range": ["#b3b3cc","#0000cc","#b3ccb3","#00cc00"]}}}},
     {"data": {"name": "o"}, "transform": [{"filter": "datum.k=='a3'"}], "mark": {"type": "line", "strokeWidth": 2.5},
      "encoding": {"y": {"field": "m", "type": "quantitative", "axis": {"values": [0,0.1,0.2,0.3,0.4,0.5,0.6,0.7,0.8], "format": ".1~f", "labelOpacity": 0, "title": null}}, "color": {"datum": "O: mean", "type": "nominal", "scale": {"domain": ["O: standard error","O: mean","C: standard error","C: mean"], "range": ["#b3b3cc","#0000cc","#b3ccb3","#00cc00"]}}}},
     {"data": {"name": "c"}, "transform": [{"filter": "datum.k=='a3'"}], "mark": {"type": "area", "opacity": 1},
      "encoding": {"y": {"field": "lo", "type": "quantitative", "axis": {"values": [0,0.1,0.2,0.3,0.4,0.5,0.6,0.7,0.8], "format": ".1~f", "labelOpacity": 0, "title": null}}, "y2": {"field": "hi"}, "color": {"datum": "C: standard error", "type": "nominal", "scale": {"domain": ["O: standard error","O: mean","C: standard error","C: mean"], "range": ["#b3b3cc","#0000cc","#b3ccb3","#00cc00"]}}}},
     {"data": {"name": "c"}, "transform": [{"filter": "datum.k=='a3'"}], "mark": {"type": "line", "strokeWidth": 3},
      "encoding": {"y": {"field": "m", "type": "quantitative", "axis": {"values": [0,0.1,0.2,0.3,0.4,0.5,0.6,0.7,0.8], "format": ".1~f", "labelOpacity": 0, "title": null}}, "color": {"datum": "C: mean", "type": "nominal", "scale": {"domain": ["O: standard error","O: mean","C: standard error","C: mean"], "range": ["#b3b3cc","#0000cc","#b3ccb3","#00cc00"]}}}}
    ]}
  ]
 }]
},
{
 "title": {"text": "(b)", "orient": "bottom", "anchor": "middle", "dx": 8, "font": "DejaVu Serif", "fontSize": 14, "offset": 24},
 "vconcat": [{
  "title": {"text": "BA: offline (O) and continuous (C) MIR", "anchor": "middle", "dx": 24, "fontWeight": "bold", "fontSize": 22, "offset": 8},
  "bounds": "flush", "spacing": 59,
  "hconcat": [
   {"width": 186, "height": 276, "title": {"text": "MCA Scal", "offset": 0.01},
    "encoding": {"x": {"field": "t", "type": "quantitative", "scale": {"domain": [0, 49], "nice": false, "zero": false}, "axis": {"values": [0,10,20,30,40], "title": "Time [s]"}}},
    "layer": [
     {"data": {"name": "o"}, "transform": [{"filter": "datum.k=='b1'"}], "mark": {"type": "area", "opacity": 1},
      "encoding": {"y": {"field": "lo", "type": "quantitative", "scale": {"domain": [0, 0.8], "nice": false}, "axis": {"values": [0,0.1,0.2,0.3,0.4,0.5,0.6,0.7,0.8], "format": ".1~f", "title": "Rating"}}, "y2": {"field": "hi"}, "color": {"datum": "O: standard error", "type": "nominal", "scale": {"domain": ["O: standard error","O: mean","C: standard error","C: mean"], "range": ["#b3b3cc","#0000cc","#b3ccb3","#00cc00"]}}}},
     {"data": {"name": "o"}, "transform": [{"filter": "datum.k=='b1'"}], "mark": {"type": "line", "strokeWidth": 2.5},
      "encoding": {"y": {"field": "m", "type": "quantitative", "axis": {"values": [0,0.1,0.2,0.3,0.4,0.5,0.6,0.7,0.8], "format": ".1~f", "title": "Rating"}}, "color": {"datum": "O: mean", "type": "nominal", "scale": {"domain": ["O: standard error","O: mean","C: standard error","C: mean"], "range": ["#b3b3cc","#0000cc","#b3ccb3","#00cc00"]}}}},
     {"data": {"name": "c"}, "transform": [{"filter": "datum.k=='b1'"}], "mark": {"type": "area", "opacity": 1},
      "encoding": {"y": {"field": "lo", "type": "quantitative", "axis": {"values": [0,0.1,0.2,0.3,0.4,0.5,0.6,0.7,0.8], "format": ".1~f", "title": "Rating"}}, "y2": {"field": "hi"}, "color": {"datum": "C: standard error", "type": "nominal", "scale": {"domain": ["O: standard error","O: mean","C: standard error","C: mean"], "range": ["#b3b3cc","#0000cc","#b3ccb3","#00cc00"]}}}},
     {"data": {"name": "c"}, "transform": [{"filter": "datum.k=='b1'"}], "mark": {"type": "line", "strokeWidth": 3},
      "encoding": {"y": {"field": "m", "type": "quantitative", "axis": {"values": [0,0.1,0.2,0.3,0.4,0.5,0.6,0.7,0.8], "format": ".1~f", "title": "Rating"}}, "color": {"datum": "C: mean", "type": "nominal", "scale": {"domain": ["O: standard error","O: mean","C: standard error","C: mean"], "range": ["#b3b3cc","#0000cc","#b3ccb3","#00cc00"]}}}}
    ]},
   {"width": 186, "height": 276, "title": {"text": "MCA TRL", "offset": 0.01},
    "encoding": {"x": {"field": "t", "type": "quantitative", "scale": {"domain": [0, 49], "nice": false, "zero": false}, "axis": {"values": [0,10,20,30,40], "title": "Time [s]"}}},
    "layer": [
     {"data": {"name": "o"}, "transform": [{"filter": "datum.k=='b2'"}], "mark": {"type": "area", "opacity": 1},
      "encoding": {"y": {"field": "lo", "type": "quantitative", "scale": {"domain": [0, 0.8], "nice": false}, "axis": {"values": [0,0.1,0.2,0.3,0.4,0.5,0.6,0.7,0.8], "format": ".1~f", "labelOpacity": 0, "title": null}}, "y2": {"field": "hi"}, "color": {"datum": "O: standard error", "type": "nominal", "scale": {"domain": ["O: standard error","O: mean","C: standard error","C: mean"], "range": ["#b3b3cc","#0000cc","#b3ccb3","#00cc00"]}}}},
     {"data": {"name": "o"}, "transform": [{"filter": "datum.k=='b2'"}], "mark": {"type": "line", "strokeWidth": 2.5},
      "encoding": {"y": {"field": "m", "type": "quantitative", "axis": {"values": [0,0.1,0.2,0.3,0.4,0.5,0.6,0.7,0.8], "format": ".1~f", "labelOpacity": 0, "title": null}}, "color": {"datum": "O: mean", "type": "nominal", "scale": {"domain": ["O: standard error","O: mean","C: standard error","C: mean"], "range": ["#b3b3cc","#0000cc","#b3ccb3","#00cc00"]}}}},
     {"data": {"name": "c"}, "transform": [{"filter": "datum.k=='b2'"}], "mark": {"type": "area", "opacity": 1},
      "encoding": {"y": {"field": "lo", "type": "quantitative", "axis": {"values": [0,0.1,0.2,0.3,0.4,0.5,0.6,0.7,0.8], "format": ".1~f", "labelOpacity": 0, "title": null}}, "y2": {"field": "hi"}, "color": {"datum": "C: standard error", "type": "nominal", "scale": {"domain": ["O: standard error","O: mean","C: standard error","C: mean"], "range": ["#b3b3cc","#0000cc","#b3ccb3","#00cc00"]}}}},
     {"data": {"name": "c"}, "transform": [{"filter": "datum.k=='b2'"}], "mark": {"type": "line", "strokeWidth": 3},
      "encoding": {"y": {"field": "m", "type": "quantitative", "axis": {"values": [0,0.1,0.2,0.3,0.4,0.5,0.6,0.7,0.8], "format": ".1~f", "labelOpacity": 0, "title": null}}, "color": {"datum": "C: mean", "type": "nominal", "scale": {"domain": ["O: standard error","O: mean","C: standard error","C: mean"], "range": ["#b3b3cc","#0000cc","#b3ccb3","#00cc00"]}}}}
    ]},
   {"width": 186, "height": 276, "title": {"text": "MCA NL", "offset": 0.01},
    "encoding": {"x": {"field": "t", "type": "quantitative", "scale": {"domain": [0, 49], "nice": false, "zero": false}, "axis": {"values": [0,10,20,30,40], "title": "Time [s]"}}},
    "layer": [
     {"data": {"name": "o"}, "transform": [{"filter": "datum.k=='b3'"}], "mark": {"type": "area", "opacity": 1},
      "encoding": {"y": {"field": "lo", "type": "quantitative", "scale": {"domain": [0, 0.8], "nice": false}, "axis": {"values": [0,0.1,0.2,0.3,0.4,0.5,0.6,0.7,0.8], "format": ".1~f", "labelOpacity": 0, "title": null}}, "y2": {"field": "hi"}, "color": {"datum": "O: standard error", "type": "nominal", "scale": {"domain": ["O: standard error","O: mean","C: standard error","C: mean"], "range": ["#b3b3cc","#0000cc","#b3ccb3","#00cc00"]}}}},
     {"data": {"name": "o"}, "transform": [{"filter": "datum.k=='b3'"}], "mark": {"type": "line", "strokeWidth": 2.5},
      "encoding": {"y": {"field": "m", "type": "quantitative", "axis": {"values": [0,0.1,0.2,0.3,0.4,0.5,0.6,0.7,0.8], "format": ".1~f", "labelOpacity": 0, "title": null}}, "color": {"datum": "O: mean", "type": "nominal", "scale": {"domain": ["O: standard error","O: mean","C: standard error","C: mean"], "range": ["#b3b3cc","#0000cc","#b3ccb3","#00cc00"]}}}},
     {"data": {"name": "c"}, "transform": [{"filter": "datum.k=='b3'"}], "mark": {"type": "area", "opacity": 1},
      "encoding": {"y": {"field": "lo", "type": "quantitative", "axis": {"values": [0,0.1,0.2,0.3,0.4,0.5,0.6,0.7,0.8], "format": ".1~f", "labelOpacity": 0, "title": null}}, "y2": {"field": "hi"}, "color": {"datum": "C: standard error", "type": "nominal", "scale": {"domain": ["O: standard error","O: mean","C: standard error","C: mean"], "range": ["#b3b3cc","#0000cc","#b3ccb3","#00cc00"]}}}},
     {"data": {"name": "c"}, "transform": [{"filter": "datum.k=='b3'"}], "mark": {"type": "line", "strokeWidth": 3},
      "encoding": {"y": {"field": "m", "type": "quantitative", "axis": {"values": [0,0.1,0.2,0.3,0.4,0.5,0.6,0.7,0.8], "format": ".1~f", "labelOpacity": 0, "title": null}}, "color": {"datum": "C: mean", "type": "nominal", "scale": {"domain": ["O: standard error","O: mean","C: standard error","C: mean"], "range": ["#b3b3cc","#0000cc","#b3ccb3","#00cc00"]}}}}
    ]}
  ]
 }]
},
{
 "title": {"text": "(c)", "orient": "bottom", "anchor": "middle", "dx": 8, "font": "DejaVu Serif", "fontSize": 14, "offset": 24},
 "vconcat": [{
  "title": {"text": "BCDA: offline (O) and continuous (C) MIR", "anchor": "middle", "dx": 24, "fontWeight": "bold", "fontSize": 22, "offset": 8},
  "bounds": "flush", "spacing": 59,
  "hconcat": [
   {"width": 186, "height": 276, "title": {"text": "MCA Scal", "offset": 0.01},
    "encoding": {"x": {"field": "t", "type": "quantitative", "scale": {"domain": [0, 52], "nice": false, "zero": false}, "axis": {"values": [0,10,20,30,40,50], "title": "Time [s]"}}},
    "layer": [
     {"data": {"name": "o"}, "transform": [{"filter": "datum.k=='c1'"}], "mark": {"type": "area", "opacity": 1},
      "encoding": {"y": {"field": "lo", "type": "quantitative", "scale": {"domain": [0, 0.8], "nice": false}, "axis": {"values": [0,0.1,0.2,0.3,0.4,0.5,0.6,0.7,0.8], "format": ".1~f", "title": "Rating"}}, "y2": {"field": "hi"}, "color": {"datum": "O: standard error", "type": "nominal", "scale": {"domain": ["O: standard error","O: mean","C: standard error","C: mean"], "range": ["#b3b3cc","#0000cc","#b3ccb3","#00cc00"]}}}},
     {"data": {"name": "o"}, "transform": [{"filter": "datum.k=='c1'"}], "mark": {"type": "line", "strokeWidth": 2.5},
      "encoding": {"y": {"field": "m", "type": "quantitative", "axis": {"values": [0,0.1,0.2,0.3,0.4,0.5,0.6,0.7,0.8], "format": ".1~f", "title": "Rating"}}, "color": {"datum": "O: mean", "type": "nominal", "scale": {"domain": ["O: standard error","O: mean","C: standard error","C: mean"], "range": ["#b3b3cc","#0000cc","#b3ccb3","#00cc00"]}}}},
     {"data": {"name": "c"}, "transform": [{"filter": "datum.k=='c1'"}], "mark": {"type": "area", "opacity": 1},
      "encoding": {"y": {"field": "lo", "type": "quantitative", "axis": {"values": [0,0.1,0.2,0.3,0.4,0.5,0.6,0.7,0.8], "format": ".1~f", "title": "Rating"}}, "y2": {"field": "hi"}, "color": {"datum": "C: standard error", "type": "nominal", "scale": {"domain": ["O: standard error","O: mean","C: standard error","C: mean"], "range": ["#b3b3cc","#0000cc","#b3ccb3","#00cc00"]}}}},
     {"data": {"name": "c"}, "transform": [{"filter": "datum.k=='c1'"}], "mark": {"type": "line", "strokeWidth": 3},
      "encoding": {"y": {"field": "m", "type": "quantitative", "axis": {"values": [0,0.1,0.2,0.3,0.4,0.5,0.6,0.7,0.8], "format": ".1~f", "title": "Rating"}}, "color": {"datum": "C: mean", "type": "nominal", "scale": {"domain": ["O: standard error","O: mean","C: standard error","C: mean"], "range": ["#b3b3cc","#0000cc","#b3ccb3","#00cc00"]}}}}
    ]},
   {"width": 186, "height": 276, "title": {"text": "MCA TRL", "offset": 0.01},
    "encoding": {"x": {"field": "t", "type": "quantitative", "scale": {"domain": [0, 52], "nice": false, "zero": false}, "axis": {"values": [0,10,20,30,40,50], "title": "Time [s]"}}},
    "layer": [
     {"data": {"name": "o"}, "transform": [{"filter": "datum.k=='c2'"}], "mark": {"type": "area", "opacity": 1},
      "encoding": {"y": {"field": "lo", "type": "quantitative", "scale": {"domain": [0, 0.8], "nice": false}, "axis": {"values": [0,0.1,0.2,0.3,0.4,0.5,0.6,0.7,0.8], "format": ".1~f", "labelOpacity": 0, "title": null}}, "y2": {"field": "hi"}, "color": {"datum": "O: standard error", "type": "nominal", "scale": {"domain": ["O: standard error","O: mean","C: standard error","C: mean"], "range": ["#b3b3cc","#0000cc","#b3ccb3","#00cc00"]}}}},
     {"data": {"name": "o"}, "transform": [{"filter": "datum.k=='c2'"}], "mark": {"type": "line", "strokeWidth": 2.5},
      "encoding": {"y": {"field": "m", "type": "quantitative", "axis": {"values": [0,0.1,0.2,0.3,0.4,0.5,0.6,0.7,0.8], "format": ".1~f", "labelOpacity": 0, "title": null}}, "color": {"datum": "O: mean", "type": "nominal", "scale": {"domain": ["O: standard error","O: mean","C: standard error","C: mean"], "range": ["#b3b3cc","#0000cc","#b3ccb3","#00cc00"]}}}},
     {"data": {"name": "c"}, "transform": [{"filter": "datum.k=='c2'"}], "mark": {"type": "area", "opacity": 1},
      "encoding": {"y": {"field": "lo", "type": "quantitative", "axis": {"values": [0,0.1,0.2,0.3,0.4,0.5,0.6,0.7,0.8], "format": ".1~f", "labelOpacity": 0, "title": null}}, "y2": {"field": "hi"}, "color": {"datum": "C: standard error", "type": "nominal", "scale": {"domain": ["O: standard error","O: mean","C: standard error","C: mean"], "range": ["#b3b3cc","#0000cc","#b3ccb3","#00cc00"]}}}},
     {"data": {"name": "c"}, "transform": [{"filter": "datum.k=='c2'"}], "mark": {"type": "line", "strokeWidth": 3},
      "encoding": {"y": {"field": "m", "type": "quantitative", "axis": {"values": [0,0.1,0.2,0.3,0.4,0.5,0.6,0.7,0.8], "format": ".1~f", "labelOpacity": 0, "title": null}}, "color": {"datum": "C: mean", "type": "nominal", "scale": {"domain": ["O: standard error","O: mean","C: standard error","C: mean"], "range": ["#b3b3cc","#0000cc","#b3ccb3","#00cc00"]}}}}
    ]},
   {"width": 186, "height": 276, "title": {"text": "MCA NL", "offset": 0.01},
    "encoding": {"x": {"field": "t", "type": "quantitative", "scale": {"domain": [0, 52], "nice": false, "zero": false}, "axis": {"values": [0,10,20,30,40,50], "title": "Time [s]"}}},
    "layer": [
     {"data": {"name": "o"}, "transform": [{"filter": "datum.k=='c3'"}], "mark": {"type": "area", "opacity": 1},
      "encoding": {"y": {"field": "lo", "type": "quantitative", "scale": {"domain": [0, 0.8], "nice": false}, "axis": {"values": [0,0.1,0.2,0.3,0.4,0.5,0.6,0.7,0.8], "format": ".1~f", "labelOpacity": 0, "title": null}}, "y2": {"field": "hi"}, "color": {"datum": "O: standard error", "type": "nominal", "scale": {"domain": ["O: standard error","O: mean","C: standard error","C: mean"], "range": ["#b3b3cc","#0000cc","#b3ccb3","#00cc00"]}}}},
     {"data": {"name": "o"}, "transform": [{"filter": "datum.k=='c3'"}], "mark": {"type": "line", "strokeWidth": 2.5},
      "encoding": {"y": {"field": "m", "type": "quantitative", "axis": {"values": [0,0.1,0.2,0.3,0.4,0.5,0.6,0.7,0.8], "format": ".1~f", "labelOpacity": 0, "title": null}}, "color": {"datum": "O: mean", "type": "nominal", "scale": {"domain": ["O: standard error","O: mean","C: standard error","C: mean"], "range": ["#b3b3cc","#0000cc","#b3ccb3","#00cc00"]}}}},
     {"data": {"name": "c"}, "transform": [{"filter": "datum.k=='c3'"}], "mark": {"type": "area", "opacity": 1},
      "encoding": {"y": {"field": "lo", "type": "quantitative", "axis": {"values": [0,0.1,0.2,0.3,0.4,0.5,0.6,0.7,0.8], "format": ".1~f", "labelOpacity": 0, "title": null}}, "y2": {"field": "hi"}, "color": {"datum": "C: standard error", "type": "nominal", "scale": {"domain": ["O: standard error","O: mean","C: standard error","C: mean"], "range": ["#b3b3cc","#0000cc","#b3ccb3","#00cc00"]}}}},
     {"data": {"name": "c"}, "transform": [{"filter": "datum.k=='c3'"}], "mark": {"type": "line", "strokeWidth": 3},
      "encoding": {"y": {"field": "m", "type": "quantitative", "axis": {"values": [0,0.1,0.2,0.3,0.4,0.5,0.6,0.7,0.8], "format": ".1~f", "labelOpacity": 0, "title": null}}, "color": {"datum": "C: mean", "type": "nominal", "scale": {"domain": ["O: standard error","O: mean","C: standard error","C: mean"], "range": ["#b3b3cc","#0000cc","#b3ccb3","#00cc00"]}}}}
    ]}
  ]
 }]
}
],
"spacing": 60
}
